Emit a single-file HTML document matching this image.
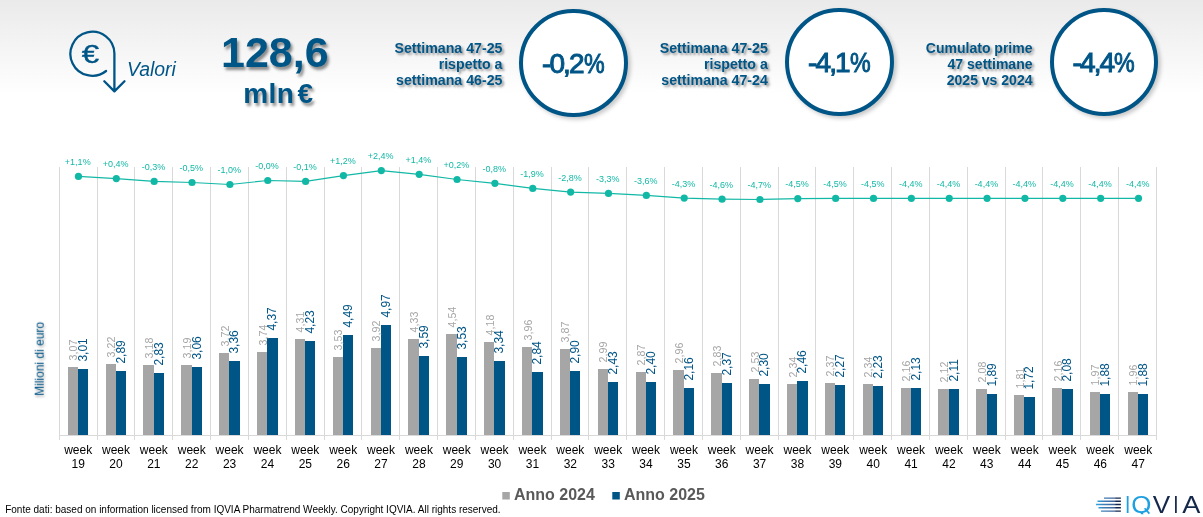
<!DOCTYPE html>
<html><head><meta charset="utf-8"><title>Valori</title>
<style>
html,body{margin:0;padding:0}
body{width:1203px;height:517px;overflow:hidden;position:relative;background:#fff;font-family:"Liberation Sans",sans-serif}
.bg{position:absolute;left:0;top:0;width:1203px;height:94px;background:linear-gradient(#eaeaea,#fff)}
svg{position:absolute;left:0;top:0}
text{font-family:"Liberation Sans",sans-serif}
.g{font-size:10.7px;fill:#a6a6a6}
.b{font-size:12px;fill:#005587}
.p{font-size:9px;fill:#12b8a6;text-anchor:middle}
.w{font-size:12px;fill:#000;text-anchor:middle}
.hd{position:absolute;color:#005587;font-weight:bold;font-size:14.2px;line-height:16px;text-align:right;text-shadow:2px 2px 2.5px rgba(0,0,0,.42);white-space:nowrap}
.circ{position:absolute;width:100.4px;height:100.4px;border:4.8px solid #005587;border-radius:50%;background:#fff;box-shadow:2.5px 2.5px 4px rgba(0,0,0,.22);text-align:center;color:#005587;font-size:28px;line-height:101.2px;letter-spacing:-1.9px;text-indent:-0.4px;-webkit-text-stroke:1px #005587}
.pc{display:inline-block;transform:scaleX(.83);margin:0 -2.1px 0 -1px;letter-spacing:0;text-indent:0}
.big{position:absolute;color:#005587;font-weight:bold;text-shadow:2px 2.5px 3px rgba(0,0,0,.45);white-space:nowrap;text-align:center}
</style></head><body>
<div class="bg"></div>
<svg width="1203" height="517" viewBox="0 0 1203 517">
<path d="M59.5 167V440M97.5 167V440M134.5 167V440M172.5 167V440M210.5 167V440M248.5 167V440M286.5 167V440M324.5 167V440M361.5 167V440M399.5 167V440M437.5 167V440M475.5 167V440M513.5 167V440M551.5 167V440M588.5 167V440M626.5 167V440M664.5 167V440M702.5 167V440M740.5 167V440M778.5 167V440M815.5 167V440M853.5 167V440M891.5 167V440M929.5 167V440M967.5 167V440M1005.5 167V440M1042.5 167V440M1080.5 167V440M1118.5 167V440M1156.5 167V440M59 435.5H1157" stroke="#d9d9d9" stroke-width="1" fill="none" shape-rendering="crispEdges"/>
<path d="M68 367H78V435H68ZM106 364H116V435H106ZM143 365H154V435H143ZM181 365H192V435H181ZM219 353H229V435H219ZM257 352H267V435H257ZM295 339H305V435H295ZM333 357H343V435H333ZM371 348H381V435H371ZM408 339H419V435H408ZM446 334H457V435H446ZM484 342H494V435H484ZM522 347H532V435H522ZM560 349H570V435H560ZM598 369H608V435H598ZM636 372H646V435H636ZM673 370H684V435H673ZM711 373H722V435H711ZM749 379H759V435H749ZM787 384H797V435H787ZM825 383H835V435H825ZM863 384H873V435H863ZM901 388H911V435H901ZM938 389H949V435H938ZM976 389H987V435H976ZM1014 395H1024V435H1014ZM1052 388H1062V435H1052ZM1090 392H1100V435H1090ZM1128 392H1138V435H1128Z" fill="#a6a6a6" shape-rendering="crispEdges"/>
<path d="M78 369H88V435H78ZM116 371H126V435H116ZM154 373H164V435H154ZM192 367H202V435H192ZM229 361H240V435H229ZM267 338H278V435H267ZM305 341H315V435H305ZM343 335H353V435H343ZM381 325H391V435H381ZM419 356H429V435H419ZM457 357H467V435H457ZM494 361H505V435H494ZM532 372H543V435H532ZM570 371H580V435H570ZM608 382H618V435H608ZM646 382H656V435H646ZM684 388H694V435H684ZM722 383H732V435H722ZM759 384H770V435H759ZM797 381H808V435H797ZM835 385H845V435H835ZM873 386H883V435H873ZM911 388H921V435H911ZM949 389H959V435H949ZM987 394H997V435H987ZM1024 397H1035V435H1024ZM1062 389H1073V435H1062ZM1100 394H1110V435H1100ZM1138 394H1148V435H1138Z" fill="#005587" shape-rendering="crispEdges"/>
<text class="g" transform="translate(77.25 360.4) rotate(-90)">3,07</text>
<text class="b" transform="translate(86.95 361.6) rotate(-90)">3,01</text>
<text class="g" transform="translate(115.11 357.4) rotate(-90)">3,22</text>
<text class="b" transform="translate(124.81 363.6) rotate(-90)">2,89</text>
<text class="g" transform="translate(152.97 358.4) rotate(-90)">3,18</text>
<text class="b" transform="translate(162.67 365.6) rotate(-90)">2,83</text>
<text class="g" transform="translate(190.83 358.4) rotate(-90)">3,19</text>
<text class="b" transform="translate(200.53 359.6) rotate(-90)">3,06</text>
<text class="g" transform="translate(228.69 346.4) rotate(-90)">3,72</text>
<text class="b" transform="translate(238.39 353.6) rotate(-90)">3,36</text>
<text class="g" transform="translate(266.55 345.4) rotate(-90)">3,74</text>
<text class="b" transform="translate(276.25 330.6) rotate(-90)">4,37</text>
<text class="g" transform="translate(304.41 332.4) rotate(-90)">4,31</text>
<text class="b" transform="translate(314.11 333.6) rotate(-90)">4,23</text>
<text class="g" transform="translate(342.27 350.4) rotate(-90)">3,53</text>
<text class="b" transform="translate(351.97 327.6) rotate(-90)">4,49</text>
<text class="g" transform="translate(380.13 341.4) rotate(-90)">3,92</text>
<text class="b" transform="translate(389.83 317.6) rotate(-90)">4,97</text>
<text class="g" transform="translate(417.99 332.4) rotate(-90)">4,33</text>
<text class="b" transform="translate(427.69 348.6) rotate(-90)">3,59</text>
<text class="g" transform="translate(455.85 327.4) rotate(-90)">4,54</text>
<text class="b" transform="translate(465.55 349.6) rotate(-90)">3,53</text>
<text class="g" transform="translate(493.71 335.4) rotate(-90)">4,18</text>
<text class="b" transform="translate(503.41 353.6) rotate(-90)">3,34</text>
<text class="g" transform="translate(531.57 340.4) rotate(-90)">3,96</text>
<text class="b" transform="translate(541.27 364.6) rotate(-90)">2,84</text>
<text class="g" transform="translate(569.43 342.4) rotate(-90)">3,87</text>
<text class="b" transform="translate(579.13 363.6) rotate(-90)">2,90</text>
<text class="g" transform="translate(607.29 362.4) rotate(-90)">2,99</text>
<text class="b" transform="translate(616.99 374.6) rotate(-90)">2,43</text>
<text class="g" transform="translate(645.15 365.4) rotate(-90)">2,87</text>
<text class="b" transform="translate(654.85 374.6) rotate(-90)">2,40</text>
<text class="g" transform="translate(683.01 363.4) rotate(-90)">2,96</text>
<text class="b" transform="translate(692.71 380.6) rotate(-90)">2,16</text>
<text class="g" transform="translate(720.87 366.4) rotate(-90)">2,83</text>
<text class="b" transform="translate(730.57 375.6) rotate(-90)">2,37</text>
<text class="g" transform="translate(758.73 372.4) rotate(-90)">2,53</text>
<text class="b" transform="translate(768.43 376.6) rotate(-90)">2,30</text>
<text class="g" transform="translate(796.59 377.4) rotate(-90)">2,34</text>
<text class="b" transform="translate(806.29 373.6) rotate(-90)">2,46</text>
<text class="g" transform="translate(834.45 376.4) rotate(-90)">2,37</text>
<text class="b" transform="translate(844.15 377.6) rotate(-90)">2,27</text>
<text class="g" transform="translate(872.31 377.4) rotate(-90)">2,34</text>
<text class="b" transform="translate(882.01 378.6) rotate(-90)">2,23</text>
<text class="g" transform="translate(910.17 381.4) rotate(-90)">2,16</text>
<text class="b" transform="translate(919.87 380.6) rotate(-90)">2,13</text>
<text class="g" transform="translate(948.03 382.4) rotate(-90)">2,12</text>
<text class="b" transform="translate(957.73 381.6) rotate(-90)">2,11</text>
<text class="g" transform="translate(985.89 382.4) rotate(-90)">2,08</text>
<text class="b" transform="translate(995.59 386.6) rotate(-90)">1,89</text>
<text class="g" transform="translate(1023.75 388.4) rotate(-90)">1,81</text>
<text class="b" transform="translate(1033.45 389.6) rotate(-90)">1,72</text>
<text class="g" transform="translate(1061.61 381.4) rotate(-90)">2,16</text>
<text class="b" transform="translate(1071.31 381.6) rotate(-90)">2,08</text>
<text class="g" transform="translate(1099.47 385.4) rotate(-90)">1,97</text>
<text class="b" transform="translate(1109.17 386.6) rotate(-90)">1,88</text>
<text class="g" transform="translate(1137.33 385.4) rotate(-90)">1,96</text>
<text class="b" transform="translate(1147.03 386.6) rotate(-90)">1,88</text>
<polyline points="78.45,176.4 116.31,178.6 154.17,181.4 192.03,182.5 229.89,184.5 267.75,180.5 305.61,181.4 343.47,175.6 381.33,170.6 419.19,174.3 457.05,179.5 494.91,183.3 532.77,188.4 570.63,192.1 608.49,193.4 646.35,195.4 684.21,198.1 722.07,199.2 759.93,199.5 797.79,198.6 835.65,198.4 873.51,198.4 911.37,198.3 949.23,198.3 987.09,198.3 1024.95,198.3 1062.81,198.3 1100.67,198.3 1138.53,198.3" fill="none" stroke="#12b8a6" stroke-width="1.2" stroke-linejoin="round"/>
<circle cx="78.45" cy="176.4" r="3.6" fill="#12b8a6"/>
<text class="p" x="77.75" y="164.8">+1,1%</text>
<circle cx="116.31" cy="178.6" r="3.6" fill="#12b8a6"/>
<text class="p" x="115.61" y="167">+0,4%</text>
<circle cx="154.17" cy="181.4" r="3.6" fill="#12b8a6"/>
<text class="p" x="153.47" y="169.8">-0,3%</text>
<circle cx="192.03" cy="182.5" r="3.6" fill="#12b8a6"/>
<text class="p" x="191.33" y="170.9">-0,5%</text>
<circle cx="229.89" cy="184.5" r="3.6" fill="#12b8a6"/>
<text class="p" x="229.19" y="172.9">-1,0%</text>
<circle cx="267.75" cy="180.5" r="3.6" fill="#12b8a6"/>
<text class="p" x="267.05" y="168.9">-0,0%</text>
<circle cx="305.61" cy="181.4" r="3.6" fill="#12b8a6"/>
<text class="p" x="304.91" y="169.8">-0,1%</text>
<circle cx="343.47" cy="175.6" r="3.6" fill="#12b8a6"/>
<text class="p" x="342.77" y="164">+1,2%</text>
<circle cx="381.33" cy="170.6" r="3.6" fill="#12b8a6"/>
<text class="p" x="380.63" y="159">+2,4%</text>
<circle cx="419.19" cy="174.3" r="3.6" fill="#12b8a6"/>
<text class="p" x="418.49" y="162.7">+1,4%</text>
<circle cx="457.05" cy="179.5" r="3.6" fill="#12b8a6"/>
<text class="p" x="456.35" y="167.9">+0,2%</text>
<circle cx="494.91" cy="183.3" r="3.6" fill="#12b8a6"/>
<text class="p" x="494.21" y="171.7">-0,8%</text>
<circle cx="532.77" cy="188.4" r="3.6" fill="#12b8a6"/>
<text class="p" x="532.07" y="176.8">-1,9%</text>
<circle cx="570.63" cy="192.1" r="3.6" fill="#12b8a6"/>
<text class="p" x="569.93" y="180.5">-2,8%</text>
<circle cx="608.49" cy="193.4" r="3.6" fill="#12b8a6"/>
<text class="p" x="607.79" y="181.8">-3,3%</text>
<circle cx="646.35" cy="195.4" r="3.6" fill="#12b8a6"/>
<text class="p" x="645.65" y="183.8">-3,6%</text>
<circle cx="684.21" cy="198.1" r="3.6" fill="#12b8a6"/>
<text class="p" x="683.51" y="186.5">-4,3%</text>
<circle cx="722.07" cy="199.2" r="3.6" fill="#12b8a6"/>
<text class="p" x="721.37" y="187.6">-4,6%</text>
<circle cx="759.93" cy="199.5" r="3.6" fill="#12b8a6"/>
<text class="p" x="759.23" y="187.9">-4,7%</text>
<circle cx="797.79" cy="198.6" r="3.6" fill="#12b8a6"/>
<text class="p" x="797.09" y="187">-4,5%</text>
<circle cx="835.65" cy="198.4" r="3.6" fill="#12b8a6"/>
<text class="p" x="834.95" y="186.8">-4,5%</text>
<circle cx="873.51" cy="198.4" r="3.6" fill="#12b8a6"/>
<text class="p" x="872.81" y="186.8">-4,5%</text>
<circle cx="911.37" cy="198.3" r="3.6" fill="#12b8a6"/>
<text class="p" x="910.67" y="186.7">-4,4%</text>
<circle cx="949.23" cy="198.3" r="3.6" fill="#12b8a6"/>
<text class="p" x="948.53" y="186.7">-4,4%</text>
<circle cx="987.09" cy="198.3" r="3.6" fill="#12b8a6"/>
<text class="p" x="986.39" y="186.7">-4,4%</text>
<circle cx="1024.95" cy="198.3" r="3.6" fill="#12b8a6"/>
<text class="p" x="1024.25" y="186.7">-4,4%</text>
<circle cx="1062.81" cy="198.3" r="3.6" fill="#12b8a6"/>
<text class="p" x="1062.11" y="186.7">-4,4%</text>
<circle cx="1100.67" cy="198.3" r="3.6" fill="#12b8a6"/>
<text class="p" x="1099.97" y="186.7">-4,4%</text>
<circle cx="1138.53" cy="198.3" r="3.6" fill="#12b8a6"/>
<text class="p" x="1137.83" y="186.7">-4,4%</text>
<text class="w" x="78.15" y="453.6">week</text><text class="w" x="78.15" y="467.7">19</text>
<text class="w" x="116.01" y="453.6">week</text><text class="w" x="116.01" y="467.7">20</text>
<text class="w" x="153.87" y="453.6">week</text><text class="w" x="153.87" y="467.7">21</text>
<text class="w" x="191.73" y="453.6">week</text><text class="w" x="191.73" y="467.7">22</text>
<text class="w" x="229.59" y="453.6">week</text><text class="w" x="229.59" y="467.7">23</text>
<text class="w" x="267.45" y="453.6">week</text><text class="w" x="267.45" y="467.7">24</text>
<text class="w" x="305.31" y="453.6">week</text><text class="w" x="305.31" y="467.7">25</text>
<text class="w" x="343.17" y="453.6">week</text><text class="w" x="343.17" y="467.7">26</text>
<text class="w" x="381.03" y="453.6">week</text><text class="w" x="381.03" y="467.7">27</text>
<text class="w" x="418.89" y="453.6">week</text><text class="w" x="418.89" y="467.7">28</text>
<text class="w" x="456.75" y="453.6">week</text><text class="w" x="456.75" y="467.7">29</text>
<text class="w" x="494.61" y="453.6">week</text><text class="w" x="494.61" y="467.7">30</text>
<text class="w" x="532.47" y="453.6">week</text><text class="w" x="532.47" y="467.7">31</text>
<text class="w" x="570.33" y="453.6">week</text><text class="w" x="570.33" y="467.7">32</text>
<text class="w" x="608.19" y="453.6">week</text><text class="w" x="608.19" y="467.7">33</text>
<text class="w" x="646.05" y="453.6">week</text><text class="w" x="646.05" y="467.7">34</text>
<text class="w" x="683.91" y="453.6">week</text><text class="w" x="683.91" y="467.7">35</text>
<text class="w" x="721.77" y="453.6">week</text><text class="w" x="721.77" y="467.7">36</text>
<text class="w" x="759.63" y="453.6">week</text><text class="w" x="759.63" y="467.7">37</text>
<text class="w" x="797.49" y="453.6">week</text><text class="w" x="797.49" y="467.7">38</text>
<text class="w" x="835.35" y="453.6">week</text><text class="w" x="835.35" y="467.7">39</text>
<text class="w" x="873.21" y="453.6">week</text><text class="w" x="873.21" y="467.7">40</text>
<text class="w" x="911.07" y="453.6">week</text><text class="w" x="911.07" y="467.7">41</text>
<text class="w" x="948.93" y="453.6">week</text><text class="w" x="948.93" y="467.7">42</text>
<text class="w" x="986.79" y="453.6">week</text><text class="w" x="986.79" y="467.7">43</text>
<text class="w" x="1024.65" y="453.6">week</text><text class="w" x="1024.65" y="467.7">44</text>
<text class="w" x="1062.51" y="453.6">week</text><text class="w" x="1062.51" y="467.7">45</text>
<text class="w" x="1100.37" y="453.6">week</text><text class="w" x="1100.37" y="467.7">46</text>
<text class="w" x="1138.23" y="453.6">week</text><text class="w" x="1138.23" y="467.7">47</text>
<text transform="translate(43.7 395.8) rotate(-90)" style="font-size:12px;fill:#005587;filter:drop-shadow(-1.3px 1.3px 1px rgba(0,0,0,.3))">Milioni di euro</text>
<!-- icon -->
<path d="M106.1 71 A22 22 0 1 1 114.4 53.4 L114.4 90.5 M104.3 81.3 L114.4 91.4 L124.5 81.3" fill="none" stroke="#005587" stroke-width="2.3" stroke-linecap="round" stroke-linejoin="round"/>
<text transform="translate(90.3 63) scale(1.2 1)" style="font-size:26px;stroke:#005587;stroke-width:.35px;fill:#005587;text-anchor:middle">€</text>
<text x="127" y="76" style="font-size:19.4px;fill:#005587;font-style:italic">Valori</text>
<!-- legend -->
<rect x="502.3" y="492" width="7.5" height="7.5" fill="#a6a6a6"/>
<text x="514" y="499.6" style="font-size:16px;font-weight:bold;fill:#595959">Anno 2024</text>
<rect x="612.3" y="492" width="7.5" height="7.5" fill="#005587"/>
<text x="624" y="499.6" style="font-size:16px;font-weight:bold;fill:#595959">Anno 2025</text>
<text x="5.2" y="512.7" style="font-size:10px;fill:#000">Fonte dati: based on information licensed from IQVIA Pharmatrend Weekly. Copyright IQVIA. All rights reserved.</text>
<!-- logo -->
<g id="logo">
<defs><linearGradient id="lg" gradientUnits="userSpaceOnUse" x1="1096" y1="0" x2="1121" y2="0"><stop offset="0" stop-color="#29abe2"/><stop offset=".3" stop-color="#3f7fb8"/><stop offset=".75" stop-color="#3b5f95"/><stop offset=".8" stop-color="#15284b"/><stop offset="1" stop-color="#15284b"/></linearGradient></defs>
<g stroke="url(#lg)" stroke-width="1.4">
<path d="M1104 498.1H1120.9M1097.5 501.3H1120.9M1096 504.5H1120.9M1098.5 507.8H1120.9M1101 511.1H1120.9"/>
</g>
<clipPath id="qc"><rect x="1120" y="490" width="83" height="24.3"/></clipPath><g style="font-size:23.8px" clip-path="url(#qc)">
<text transform="translate(1127.6 512.6) scale(.8 1)" text-anchor="middle" fill="#1ea0e0">I</text>
<text transform="translate(1141.3 512.6) scale(1.09 1)" text-anchor="middle" fill="#1ea0e0">Q</text>
<text transform="translate(1161.5 512.6) scale(1.1 1)" text-anchor="middle" fill="#15284b">V</text>
<text transform="translate(1176 512.6) scale(.8 1)" text-anchor="middle" fill="#15284b">I</text>
<text transform="translate(1191.4 512.6) scale(1.14 1)" text-anchor="middle" fill="#15284b">A</text>
</g><path d="M1144.6 508.2L1149.4 513.6" stroke="#1ea0e0" stroke-width="1.7" fill="none"/></g>
</svg>
<div class="big" style="left:214.8px;top:27.1px;width:120px;font-size:43px;line-height:50px">128,6</div>
<div class="big" style="left:214.9px;top:77.8px;width:127px;font-size:28px;line-height:32px;letter-spacing:.4px;word-spacing:-4.8px">mln €</div>
<div class="hd" style="right:700.5px;top:40px">Settimana 47-25<br>rispetto a<br>settimana 46-25</div>
<div class="hd" style="right:435.20000000000005px;top:39.5px">Settimana 47-25<br>rispetto a<br>settimana 47-24</div>
<div class="hd" style="right:170.5px;top:40px;font-size:14.02px">Cumulato prime<br>47 settimane<br>2025 vs 2024</div>
<div class="circ" style="left:519.2px;top:8.6px">-0,2<span class="pc">%</span></div>
<div class="circ" style="left:785.3px;top:8px">-4,1<span class="pc">%</span></div>
<div class="circ" style="left:1049.8px;top:8px">-4,4<span class="pc">%</span></div>
</body></html>
